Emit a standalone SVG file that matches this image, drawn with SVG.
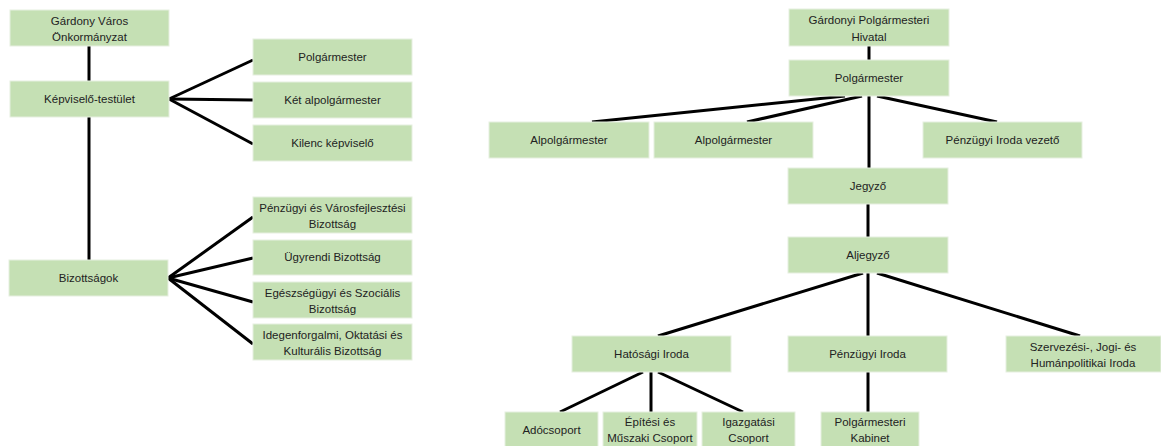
<svg xmlns="http://www.w3.org/2000/svg" width="1161" height="446" viewBox="0 0 1161 446">
<style>
.box{fill:#c5e0b4;stroke:#e6efe0;stroke-width:1}
.t{font-family:"Liberation Sans",Arial,sans-serif;font-size:11.5px;fill:#222;text-anchor:middle}
.c line{stroke:#000;stroke-width:3;stroke-linecap:butt}
</style>
<rect width="1161" height="446" fill="#fff"/>
<g class="c" id="connectors">
<line x1="89" y1="46" x2="89" y2="81"/>
<line x1="89" y1="117" x2="89" y2="260"/>
<line x1="169" y1="99" x2="253" y2="60"/>
<line x1="169" y1="99" x2="253" y2="100"/>
<line x1="169" y1="99" x2="253" y2="144"/>
<line x1="168" y1="278" x2="253" y2="217"/>
<line x1="168" y1="278" x2="253" y2="258"/>
<line x1="168" y1="278" x2="253" y2="302"/>
<line x1="168" y1="278" x2="253" y2="344"/>
<line x1="869" y1="46" x2="869" y2="60"/>
<line x1="845" y1="96" x2="592" y2="122"/>
<line x1="862" y1="96" x2="747" y2="122"/>
<line x1="869" y1="96" x2="869" y2="168"/>
<line x1="877" y1="96" x2="997" y2="122"/>
<line x1="868" y1="204" x2="868" y2="237"/>
<line x1="863" y1="273" x2="658" y2="336"/>
<line x1="868" y1="273" x2="868" y2="336"/>
<line x1="877" y1="273" x2="1080" y2="336"/>
<line x1="643" y1="372" x2="560" y2="412"/>
<line x1="651" y1="372" x2="651" y2="412"/>
<line x1="658" y1="372" x2="743" y2="412"/>
<line x1="868" y1="372" x2="868" y2="412"/>
</g>
<g id="n-gardony"><rect class="box" x="10" y="10" width="159" height="36"/><text class="t" x="89.5" y="25">Gárdony Város</text><text class="t" x="89.5" y="41">Önkormányzat</text></g>
<g id="n-kepviselo"><rect class="box" x="10" y="81" width="159" height="36"/><text class="t" x="89.5" y="103">Képviselő-testület</text></g>
<g id="n-bizottsagok"><rect class="box" x="9" y="260" width="159" height="36"/><text class="t" x="88.5" y="282">Bizottságok</text></g>
<g id="n-polg1"><rect class="box" x="253" y="39" width="159" height="36"/><text class="t" x="332.5" y="61">Polgármester</text></g>
<g id="n-ketalp"><rect class="box" x="253" y="82" width="159" height="36"/><text class="t" x="332.5" y="104">Két alpolgármester</text></g>
<g id="n-kilenc"><rect class="box" x="253" y="125" width="159" height="36"/><text class="t" x="332.5" y="147">Kilenc képviselő</text></g>
<g id="n-penzvaros"><rect class="box" x="253" y="197" width="159" height="36"/><text class="t" x="332.5" y="212">Pénzügyi és Városfejlesztési</text><text class="t" x="332.5" y="228">Bizottság</text></g>
<g id="n-ugyrendi"><rect class="box" x="253" y="240" width="159" height="35"/><text class="t" x="332.5" y="261">Ügyrendi Bizottság</text></g>
<g id="n-egeszseg"><rect class="box" x="253" y="282" width="159" height="36"/><text class="t" x="332.5" y="297">Egészségügyi és Szociális</text><text class="t" x="332.5" y="313">Bizottság</text></g>
<g id="n-idegen"><rect class="box" x="253" y="324" width="159" height="36"/><text class="t" x="332.5" y="339">Idegenforgalmi, Oktatási és</text><text class="t" x="332.5" y="355">Kulturális Bizottság</text></g>
<g id="n-hivatal"><rect class="box" x="789" y="9" width="160" height="37"/><text class="t" x="869" y="24">Gárdonyi Polgármesteri</text><text class="t" x="869" y="41">Hivatal</text></g>
<g id="n-polg2"><rect class="box" x="789" y="60" width="160" height="36"/><text class="t" x="869" y="82">Polgármester</text></g>
<g id="n-alp1"><rect class="box" x="489" y="122" width="160" height="36"/><text class="t" x="569" y="144">Alpolgármester</text></g>
<g id="n-alp2"><rect class="box" x="654" y="122" width="159" height="36"/><text class="t" x="733.5" y="144">Alpolgármester</text></g>
<g id="n-penzvez"><rect class="box" x="923" y="122" width="159" height="36"/><text class="t" x="1002.5" y="144">Pénzügyi Iroda vezető</text></g>
<g id="n-jegyzo"><rect class="box" x="788" y="168" width="160" height="36"/><text class="t" x="868" y="190">Jegyző</text></g>
<g id="n-aljegyzo"><rect class="box" x="788" y="237" width="160" height="36"/><text class="t" x="868" y="259">Aljegyző</text></g>
<g id="n-hatosagi"><rect class="box" x="572" y="336" width="159" height="36"/><text class="t" x="651.5" y="358">Hatósági Iroda</text></g>
<g id="n-penziroda"><rect class="box" x="788" y="336" width="159" height="36"/><text class="t" x="867.5" y="358">Pénzügyi Iroda</text></g>
<g id="n-szervezesi"><rect class="box" x="1006" y="336" width="155" height="36"/><text class="t" x="1083" y="351">Szervezési-, Jogi- és</text><text class="t" x="1083" y="367">Humánpolitikai Iroda</text></g>
<g id="n-ado"><rect class="box" x="505" y="412" width="93" height="36"/><text class="t" x="551.5" y="434">Adócsoport</text></g>
<g id="n-epitesi"><rect class="box" x="603" y="412" width="94" height="36"/><text class="t" x="650" y="426">Építési és</text><text class="t" x="650" y="442">Műszaki Csoport</text></g>
<g id="n-igazgatasi"><rect class="box" x="702" y="412" width="93" height="36"/><text class="t" x="748.5" y="426">Igazgatási</text><text class="t" x="748.5" y="442">Csoport</text></g>
<g id="n-kabinet"><rect class="box" x="821" y="412" width="98" height="36"/><text class="t" x="870" y="426">Polgármesteri</text><text class="t" x="870" y="442">Kabinet</text></g>
</svg>
